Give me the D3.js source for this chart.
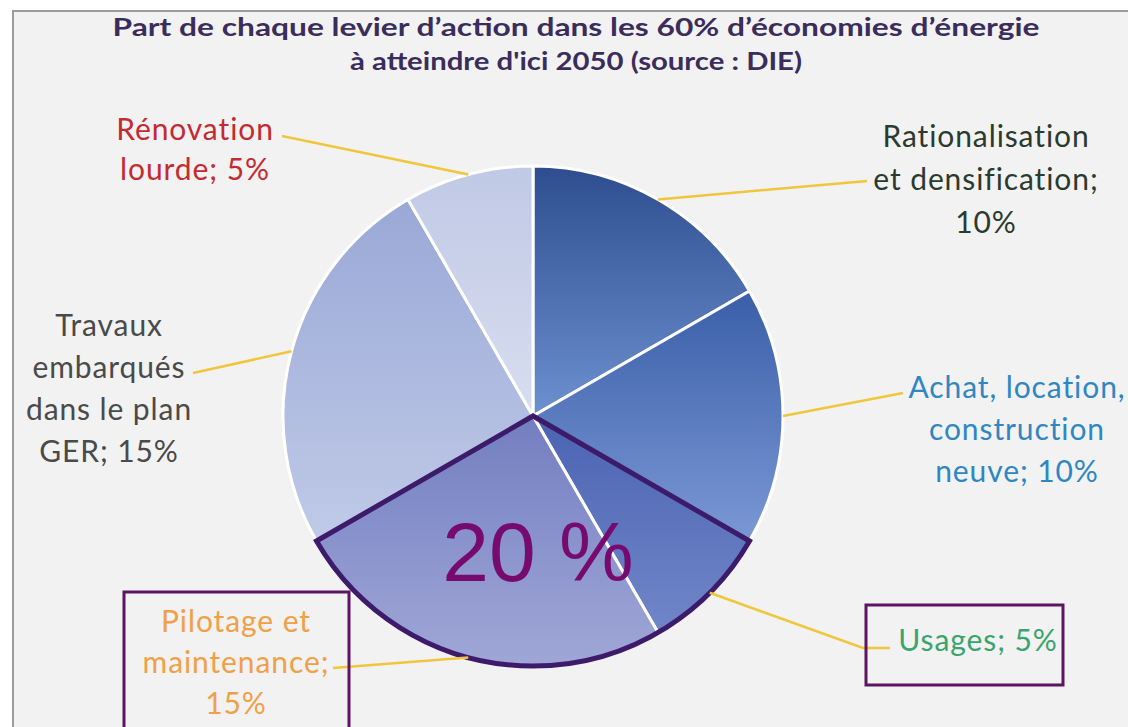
<!DOCTYPE html>
<html>
<head>
<meta charset="utf-8">
<script src="https://cdn.jsdelivr.net/npm/d3@7"></script>
<style>
  html, body { margin: 0; padding: 0; background: #fff; }
  #chart { width: 1128px; height: 727px; overflow: hidden; }
</style>
</head>
<body>
<div id="chart"></div>
<script>
const TITLE_LINES = [
  "Part de chaque levier d’action dans les 60% d’économies d’énergie",
  "à atteindre d'ici 2050 (source : DIE)",
];

const LEVERS = [
  "Rationalisation et densification",
  "Achat, location, construction neuve",
  "Usages",
  "Pilotage et maintenance",
  "Travaux embarqués dans le plan GER",
  "Rénovation lourde",
];

const SHARES = [10, 10, 5, 15, 15, 5];

// label text broken into lines, last part gets the share
const LABEL_LINES = [
  ["Rationalisation", "et densification;", "{v}%"],
  ["Achat, location,", "construction", "neuve; {v}%"],
  ["Usages; {v}%"],
  ["Pilotage et", "maintenance;", "{v}%"],
  ["Travaux", "embarqués", "dans le plan", "GER; {v}%"],
  ["Rénovation", "lourde; {v}%"],
];

const LABEL_COLORS = ["#2b3a2f", "#2f86c3", "#3aa46e", "#f0a047", "#4a4a4a", "#c42a30"];

// gradient stops (top, bottom) per slice
const SLICE_TOP    = ["#2d4d8f", "#3a5ea9", "#4b63b3", "#737ec0", "#9aa8d6", "#c0c9e5"];
const SLICE_BOTTOM = ["#6d90cf", "#7b98d4", "#7186c8", "#a0a7d7", "#c0cae8", "#d8ddf0"];

// highlighted group: Usages + Pilotage
const HIGHLIGHT = [2, 3];

function render() {
  const W = 1128, H = 727;
  const cx = 533, cy = 416, r = 250;

  const svg = d3.select("#chart").append("svg")
    .attr("width", W).attr("height", H);

  const defs = svg.append("defs");

  // Panel
  svg.append("rect")
    .attr("x", 13).attr("y", 11)
    .attr("width", W + 20).attr("height", H + 20)
    .attr("fill", "#f2f2f2")
    .attr("stroke", "#9c9c9c").attr("stroke-width", 2);

  // Title
  const titleLen = [927, 452];
  svg.selectAll(".title")
    .data(TITLE_LINES)
    .join("text")
    .attr("class", "title")
    .attr("x", 576)
    .attr("y", (d, i) => 36 + i * 34)
    .attr("text-anchor", "middle")
    .attr("fill", "#3a2d5c")
    .attr("font-family", "Lato, 'DejaVu Sans', sans-serif")
    .attr("font-weight", "bold")
    .attr("font-size", "24px")
    .attr("textLength", (d, i) => titleLen[i])
    .attr("lengthAdjust", "spacingAndGlyphs")
    .text((d) => d);

  const pie = d3.pie().sort(null).value((d) => d)(SHARES);
  const arc = d3.arc().innerRadius(0).outerRadius(r);

  // per-slice vertical gradients
  pie.forEach((p, i) => {
    const g = defs.append("linearGradient")
      .attr("id", "grad" + i)
      .attr("x1", 0).attr("y1", 0).attr("x2", 0).attr("y2", 1);
    g.append("stop").attr("offset", "0%").attr("stop-color", SLICE_TOP[i]);
    g.append("stop").attr("offset", "100%").attr("stop-color", SLICE_BOTTOM[i]);
  });

  const gPie = svg.append("g").attr("transform", `translate(${cx},${cy})`);

  gPie.selectAll(".slice")
    .data(pie)
    .join("path")
    .attr("class", "slice")
    .attr("d", arc)
    .attr("fill", (d, i) => `url(#grad${i})`)
    .attr("stroke", "#ffffff")
    .attr("stroke-width", 3)
    .attr("stroke-linejoin", "round");

  // Highlight outline around grouped slices
  const hStart = pie[HIGHLIGHT[0]].startAngle;
  const hEnd = pie[HIGHLIGHT[HIGHLIGHT.length - 1]].endAngle;
  gPie.append("path")
    .attr("d", arc({ startAngle: hStart, endAngle: hEnd }))
    .attr("fill", "none")
    .attr("stroke", "#3d1b6b")
    .attr("stroke-width", 5)
    .attr("stroke-linejoin", "miter");

  const hSum = d3.sum(HIGHLIGHT, (i) => SHARES[i]);
  svg.append("text")
    .attr("x", 538).attr("y", 581)
    .attr("text-anchor", "middle")
    .attr("fill", "#760a6e")
    .attr("font-family", "'Liberation Sans', Arial, sans-serif")
    .attr("font-size", "84px")
    .text(`${hSum} %`);

  // Leader lines: from slice mid-angle on the rim to the label anchor
  const LEADER_ENDS = [
    [[867, 181]],
    [[903, 393]],
    [[863, 648], [890, 648]],
    [[333, 668]],
    [[193, 373]],
    [[282, 136]],
  ];
  const line = d3.line();
  svg.selectAll(".leader")
    .data(pie)
    .join("path")
    .attr("class", "leader")
    .attr("d", (d, i) => {
      const a = (d.startAngle + d.endAngle) / 2;
      const start = [cx + r * Math.sin(a), cy - r * Math.cos(a)];
      return line([start, ...LEADER_ENDS[i]]);
    })
    .attr("fill", "none")
    .attr("stroke", "#f0c63c")
    .attr("stroke-width", 2.5);

  // Labels
  const LABEL_POS = [
    { x: 986, y: 147, lh: 43 },
    { x: 1017, y: 398, lh: 42 },
    { x: 978, y: 651, lh: 42 },
    { x: 236, y: 632, lh: 41 },
    { x: 109, y: 336, lh: 42 },
    { x: 195, y: 140, lh: 40 },
  ];

  const labels = svg.selectAll(".label")
    .data(pie)
    .join("text")
    .attr("class", "label")
    .attr("text-anchor", "middle")
    .attr("font-family", "Lato, 'Open Sans', sans-serif")
    .attr("font-size", "30px")
    .attr("letter-spacing", "0.9px")
    .attr("fill", (d, i) => LABEL_COLORS[i]);

  labels.selectAll("tspan")
    .data((d, i) => LABEL_LINES[i].map((t) => ({ t: t.replace("{v}", SHARES[i]), i })))
    .join("tspan")
    .attr("x", (d) => LABEL_POS[d.i].x)
    .attr("y", (d, k) => LABEL_POS[d.i].y + k * LABEL_POS[d.i].lh)
    .text((d) => d.t);

  // Boxes around highlighted labels
  const BOXES = [
    { x: 866, y: 605, w: 197, h: 80 },
    { x: 124, y: 592, w: 225, h: 150 },
  ];
  svg.selectAll(".box")
    .data(BOXES)
    .join("rect")
    .attr("class", "box")
    .attr("x", (d) => d.x).attr("y", (d) => d.y)
    .attr("width", (d) => d.w).attr("height", (d) => d.h)
    .attr("fill", "none")
    .attr("stroke", "#5c1463")
    .attr("stroke-width", 3);
}

render();
</script>
</body>
</html>
